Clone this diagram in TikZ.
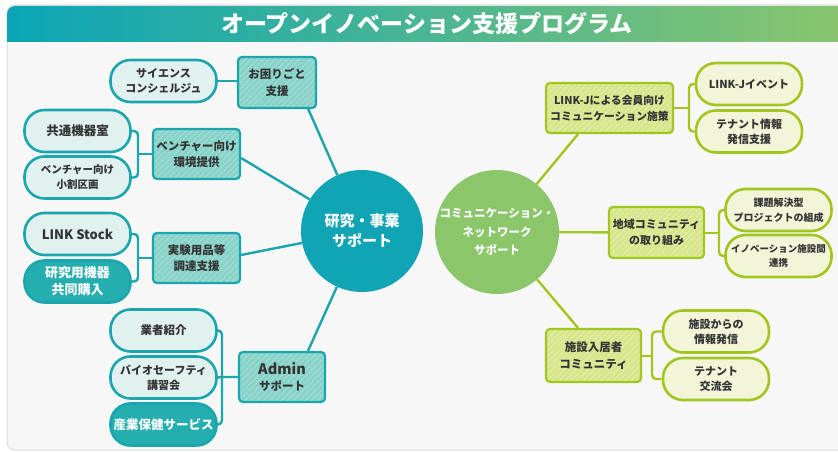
\documentclass[tikz,border=0pt]{standalone}
\usepackage{fontspec}
\newfontfamily\jp{Noto Sans CJK JP}
\usetikzlibrary{calc,patterns.meta}

\definecolor{tealC}{HTML}{10A4B4}
\definecolor{tealLine}{HTML}{1BA6AE}
\definecolor{tealBoxFill}{HTML}{88D3C9}
\definecolor{tealStripe}{HTML}{AAE0D8}
\definecolor{tealPill}{HTML}{E0F1EF}
\definecolor{tealDark}{HTML}{25AEB0}
\definecolor{greenC}{HTML}{8CC66B}
\definecolor{greenLine}{HTML}{A3C520}
\definecolor{greenBoxFill}{HTML}{D7E68B}
\definecolor{greenStripe}{HTML}{E6EFB3}
\definecolor{greenPill}{HTML}{F3F5D8}
\definecolor{txt}{HTML}{333333}
\definecolor{panel}{HTML}{F7F7F7}
\definecolor{panelEdge}{HTML}{DCDCDC}
\definecolor{titleL}{HTML}{0AA5B7}
\definecolor{titleR}{HTML}{8CC66C}

\tikzset{
  boxbase/.style={rounded corners=4pt, line width=2.2pt, align=center, inner sep=0pt,
    text=txt, font=\jp\bfseries\fontsize{11.5}{16.5}\selectfont,
    minimum width=87pt, minimum height=50pt},
  tbox/.style={boxbase, draw=tealLine, preaction={fill=tealBoxFill},
    pattern={Lines[angle=45,distance=4pt,line width=1pt]}, pattern color=tealStripe},
  gbox/.style={boxbase, draw=greenLine, preaction={fill=greenBoxFill},
    pattern={Lines[angle=45,distance=4pt,line width=1pt]}, pattern color=greenStripe},
  pillbase/.style={rounded corners=20pt, line width=2.6pt, align=center, inner sep=0pt,
    minimum width=106pt, minimum height=42pt, text=txt,
    font=\jp\bfseries\fontsize{11}{15}\selectfont},
  tpill/.style={pillbase, draw=tealLine, fill=tealPill},
  tdark/.style={pillbase, draw=tealLine, fill=tealDark, text=white,
    font=\jp\bfseries\fontsize{13}{17}\selectfont},
  gpill/.style={pillbase, draw=greenLine, fill=greenPill},
  hub/.style={circle, minimum size=122pt, inner sep=0pt, align=center, text=white},
  tline/.style={draw=tealLine, line width=2.4pt},
  gline/.style={draw=greenLine, line width=2.4pt},
}

\begin{document}
\begin{tikzpicture}[x=1pt,y=-1pt]
\useasboundingbox (0,0) rectangle (838,452);
\fill[white] (0,0) rectangle (838,452);
\draw[panelEdge, fill=panel, line width=1pt, rounded corners=8pt] (7,5) rectangle (870,450);
\shade[left color=titleL, right color=titleR] (7,42) [rounded corners=8pt] -- (7,6) -- (820,6) [sharp corners] -- (860,6) -- (860,42) -- cycle;
\node[font=\jp\bfseries\fontsize{23}{23}\selectfont, text=white] (title) at (427,24) {オープンイノベーション支援プログラム};

% hubs
\node[hub, fill=tealC, font=\jp\bfseries\fontsize{15}{20}\selectfont] (L) at (362,231) {研究・事業\\サポート};
\node[hub, fill=greenC, font=\jp\bfseries\fontsize{11.5}{18.5}\selectfont] (R) at (497,232) {コミュニケーション・\\ネットワーク\\サポート};

% left boxes
\node[tbox, minimum width=78pt, minimum height=51pt] (bA) at (277,82.5) {お困りごと\\支援};
\node[tbox] (bB) at (196.5,154) {ベンチャー向け\\環境提供};
\node[tbox] (bC) at (196.5,258) {実験用品等\\調達支援};
\node[tbox, minimum width=86pt] (bD) at (282,377) {{\fontsize{14.5}{16.5}\selectfont Admin}\\サポート};

% left pills
\node[tpill] (p1) at (163.5,81) {サイエンス\\コンシェルジュ};
\node[tpill, font=\jp\bfseries\fontsize{12.5}{15}\selectfont] (p2) at (77.5,131) {共通機器室};
\node[tpill, font=\jp\bfseries\fontsize{10.5}{15}\selectfont] (p3) at (77.5,177.5) {ベンチャー向け\\小割区画};
\node[tpill, font=\jp\bfseries\fontsize{13}{15}\selectfont] (p4) at (77.5,234) {LINK Stock};
\node[tdark] (p5) at (77.5,281.5) {研究用機器\\共同購入};
\node[tpill, font=\jp\bfseries\fontsize{11.5}{15}\selectfont] (p6) at (163.5,330.5) {業者紹介};
\node[tpill] (p7) at (163.5,377.5) {バイオセーフティ\\講習会};
\node[tdark, font=\jp\bfseries\fontsize{12.5}{15}\selectfont] (p8) at (163.5,424.5) {産業保健サービス};

% right boxes
\node[gbox, minimum width=127pt, font=\jp\bfseries\fontsize{10.8}{16}\selectfont] (bE) at (609.5,108) {LINK-Jによる会員向け\\コミュニケーション施策};
\node[gbox, minimum width=95pt, minimum height=51pt, font=\jp\bfseries\fontsize{11}{16.5}\selectfont] (bF) at (656.5,232.5) {地域コミュニティ\\の取り組み};
\node[gbox, minimum width=95pt, minimum height=53pt, font=\jp\bfseries\fontsize{11.5}{16.5}\selectfont] (bG) at (593.5,355.5) {施設入居者\\コミュニティ};

% right pills
\node[gpill] (q1) at (749,84) {LINK-Jイベント};
\node[gpill] (q2) at (749,131.5) {テナント情報\\発信支援};
\node[gpill, font=\jp\bfseries\fontsize{10}{15}\selectfont] (q3) at (778.5,210) {課題解決型\\プロジェクトの組成};
\node[gpill, font=\jp\bfseries\fontsize{9.5}{14.5}\selectfont] (q4) at (778.5,256) {イノベーション施設間\\連携};
\node[gpill] (q5) at (716,331.5) {施設からの\\情報発信};
\node[gpill] (q6) at (716,379) {テナント\\交流会};

% junctions
\coordinate (jB) at (138,154);
\coordinate (jC) at (138,258);
\coordinate (jD) at (222,377);
\coordinate (jE) at (689,108);
\coordinate (jF) at (719,233);
\coordinate (jG) at (652,356);

% left connectors
\draw[tline] (p1.east) -- (p1.east -| bA.west);
\draw[tline, rounded corners=4pt] (p2.east) -| (jB) |- (p3.east);
\draw[tline] (jB) -- (bB.west |- jB);
\draw[tline, rounded corners=4pt] (p4.east) -| (jC) |- (p5.east);
\draw[tline] (jC) -- (bC.west |- jC);
\draw[tline, rounded corners=4pt] (p6.east) -| (jD) |- (p8.east);
\draw[tline] (p7.east) -- (jD) -- (bD.west |- jD);

\draw[tline] ($(bA.south)+(31,0)$) -- (L);
\draw[tline] ($(bB.east)+(0,4)$) -- (L);
\draw[tline] ($(bC.east)+(0,-3)$) -- (L);
\draw[tline] ($(bD.north)+(26,0)$) -- (L);

% right connectors
\draw[gline, rounded corners=4pt] (q1.west) -| (jE) |- (q2.west);
\draw[gline] (jE) -- (bE.east |- jE);
\draw[gline, rounded corners=4pt] (q3.west) -| (jF) |- (q4.west);
\draw[gline] (jF) -- (bF.east |- jF);
\draw[gline, rounded corners=4pt] (q5.west) -| (jG) |- (q6.west);
\draw[gline] (jG) -- (bG.east |- jG);

\draw[gline] ($(bE.south)+(-31.5,0)$) -- (R);
\draw[gline] (R) -- (bF);
\draw[gline] ($(bG.north)+(-15.5,0)$) -- (R);
\end{tikzpicture}
\end{document}
